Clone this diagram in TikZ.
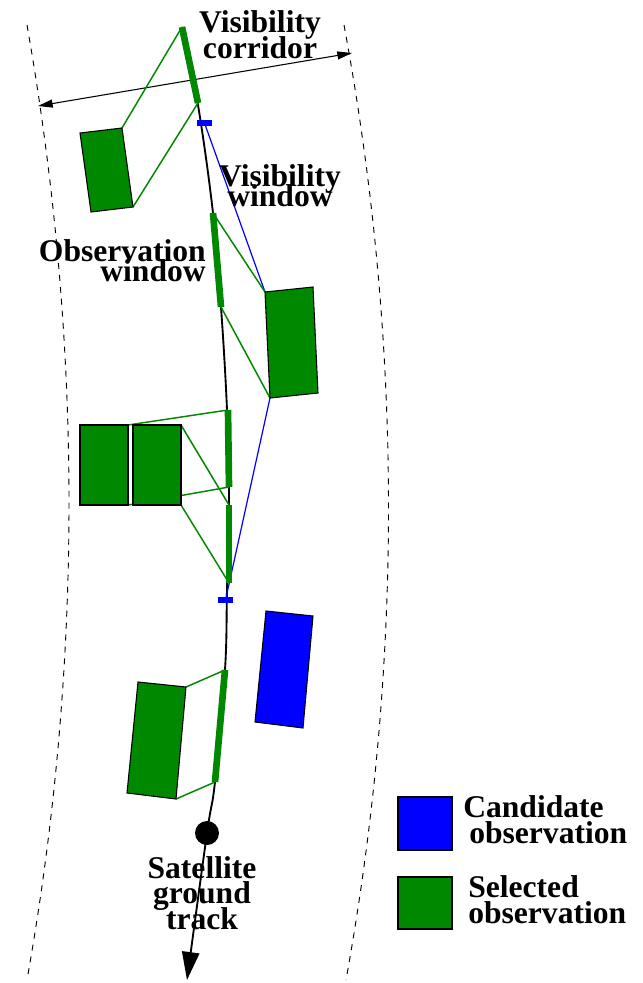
\documentclass[tikz,border=0pt]{standalone}
\usepackage{fontspec}
\setmainfont{Liberation Serif}
\usetikzlibrary{arrows.meta}
\definecolor{obsgreen}{RGB}{0,136,0}
\definecolor{obsblue}{RGB}{0,0,255}
\newcommand\lblfont[1]{\fontsize{23.7pt}{#1}\selectfont\bfseries}
\setlength{\lineskiplimit}{-40pt}

\tikzset{
  corridor/.style={dash pattern=on 4.5pt off 4.5pt, line width=0.7pt},
  track/.style={line width=1.4pt},
  winbar/.style={obsgreen, line width=5pt},
  link/.style={obsgreen, line width=1.1pt},
  bluelink/.style={obsblue, line width=0.9pt},
  selbox/.style={fill=obsgreen, draw=black, line width=0.8pt},
  candbox/.style={fill=obsblue, draw=black, line width=0.8pt},
  marker/.style={fill=obsblue, draw=none},
  txtlabel/.style={inner sep=0pt, align=center},
}

\begin{document}
\begin{tikzpicture}[x=0.75pt,y=-0.75pt]
\useasboundingbox (0,0) rectangle (643,983);

% corridor borders
\draw[corridor] (27,25) .. controls (83,344) and (83,664) .. (27,980);
\draw[corridor] (344,25) .. controls (403,344) and (403,664) .. (346,980);

% corridor width
\coordinate (cl) at (38,106);
\coordinate (cr) at (352,53);
\draw[line width=0.8pt, {Triangle[length=11pt,width=6pt]}-{Triangle[length=11pt,width=6pt]}] (cl) -- (cr);

% satellite ground track
\draw[track, -{Triangle[length=21pt,width=13pt]}] plot[smooth, tension=0.6] coordinates
  {(182,27) (198,105) (213,213) (221,307) (227,410) (229,500) (227,590) (225,670) (215,782) (207,833) (187,980)};

% observation windows on the track
\coordinate (w1s) at (182,27);  \coordinate (w1e) at (198,103);
\coordinate (w2s) at (213,213); \coordinate (w2e) at (221,307);
\coordinate (w3s) at (228,410); \coordinate (w3e) at (229,487);
\coordinate (w4s) at (229,505); \coordinate (w4e) at (229,583);
\coordinate (w5s) at (225,670); \coordinate (w5e) at (215,782);

% visibility window bounds
\coordinate (v1) at (204.5,123);
\coordinate (v2) at (225.5,600);

% observed areas
\coordinate (a1) at (80,133);  \coordinate (a2) at (122,128);
\coordinate (a3) at (133,207); \coordinate (a4) at (91,212);
\coordinate (b1) at (265,292); \coordinate (b2) at (313,287);
\coordinate (b3) at (318,393); \coordinate (b4) at (270,398);
\coordinate (c1) at (80,425);  \coordinate (c2) at (128,425);
\coordinate (c3) at (128,505); \coordinate (c4) at (80,505);
\coordinate (d1) at (133,425); \coordinate (d2) at (181,425);
\coordinate (d3) at (181,505); \coordinate (d4) at (133,505);
\coordinate (e1) at (138,682); \coordinate (e2) at (186,687);
\coordinate (e3) at (176,799); \coordinate (e4) at (127,793);
\coordinate (f1) at (266,611); \coordinate (f2) at (313,616);
\coordinate (f3) at (303,728); \coordinate (f4) at (255,722);

% visibility window edges
\draw[bluelink] (v1) -- (b1);
\draw[bluelink] (b4) -- (v2);

% links from windows to areas
\draw[link] (w1s) -- (a2);
\draw[link] (w1e) -- (a3);
\draw[link] (w2s) -- (b1);
\draw[link] (w2e) -- (b4);
\draw[link] (c2) -- (w3s);
\draw[link] (c3) -- (w3e);
\draw[link] (d2) -- (w4s);
\draw[link] (d3) -- (w4e);
\draw[link] (e2) -- (w5s);
\draw[link] (e3) -- (w5e);

% areas
\filldraw[selbox] (a1) -- (a2) -- (a3) -- (a4) -- cycle;
\filldraw[selbox] (b1) -- (b2) -- (b3) -- (b4) -- cycle;
\filldraw[selbox] (c1) -- (c2) -- (c3) -- (c4) -- cycle;
\filldraw[selbox] (d1) -- (d2) -- (d3) -- (d4) -- cycle;
\filldraw[selbox] (e1) -- (e2) -- (e3) -- (e4) -- cycle;
\filldraw[candbox] (f1) -- (f2) -- (f3) -- (f4) -- cycle;

% windows
\draw[winbar] (w1s) -- (w1e);
\draw[winbar] (w2s) -- (w2e);
\draw[winbar] (w3s) -- (w3e);
\draw[winbar] (w4s) -- (w4e);
\draw[winbar] (w5s) -- (w5e);
\fill[marker] (197,120) rectangle (212,126);
\fill[marker] (218,597) rectangle (233,603);

% satellite
\fill (207,833) circle[radius=9pt];

% labels (anchored at the baseline of their last line)
\node[txtlabel, font=\lblfont{19.5pt}, anchor=base] (tcor) at (260,58) {Visibility\\corridor};
\node[txtlabel, font=\lblfont{14.5pt}, anchor=base] (tvis) at (280,206) {Visibility\\window};
\node[txtlabel, font=\lblfont{15pt}, anchor=base east, align=right] (tobs) at (206,281) {Observation\\window};
\node[txtlabel, font=\lblfont{19pt}, anchor=base] (tsat) at (202,929) {Satellite\\ground\\track};

% legend
\filldraw[candbox] (398,797) rectangle (452,850);
\filldraw[selbox] (398,877) rectangle (452,929);
\node[txtlabel, font=\lblfont{19.5pt}, anchor=base west, align=left] (tcand) at (463,843) {Candidate\\\hspace*{4.5pt}observation};
\node[txtlabel, font=\lblfont{19.5pt}, anchor=base west, align=left] (tsel) at (468,923) {Selected\\observation};
\end{tikzpicture}
\end{document}
